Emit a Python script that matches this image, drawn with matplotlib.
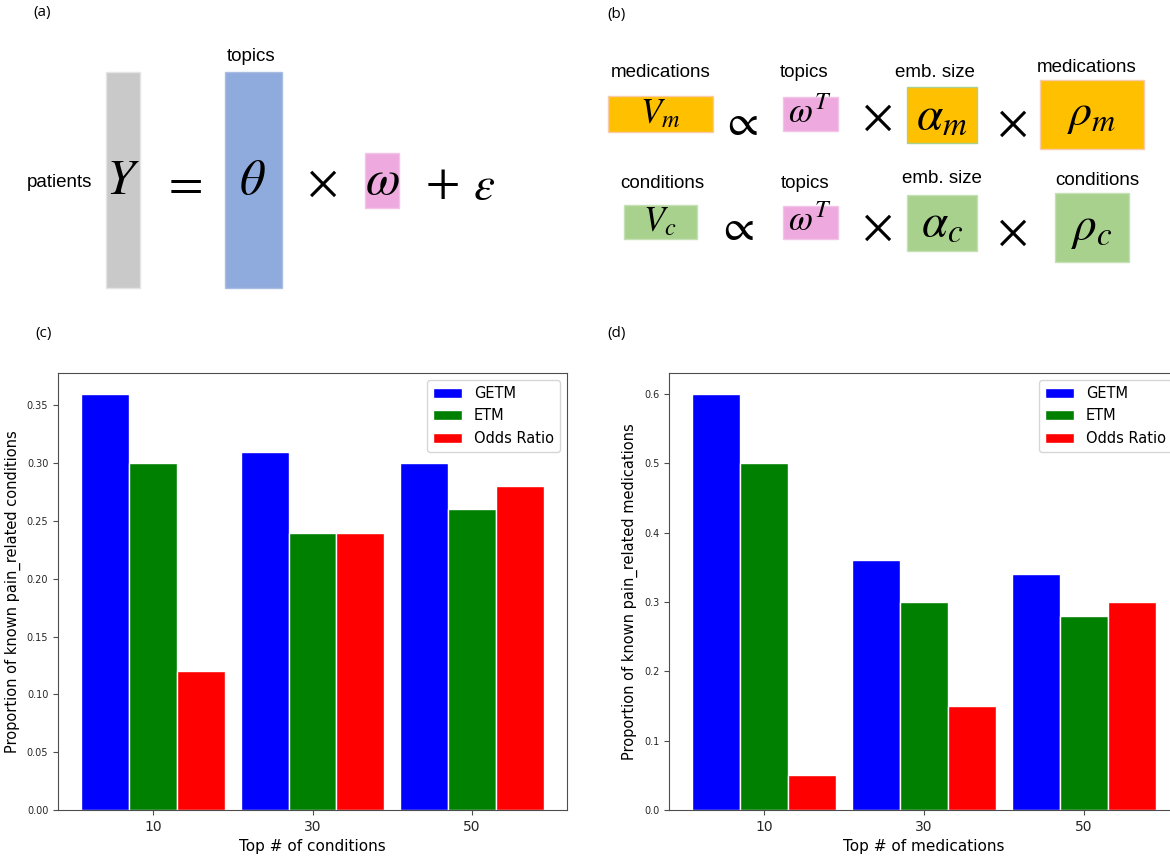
import matplotlib
matplotlib.use("Agg")
import numpy as np
import matplotlib.pyplot as plt
from matplotlib.patches import Rectangle

plt.rcParams.update({
    "mathtext.fontset": "stix",
    "axes.edgecolor": "0.3",
    "xtick.color": "0.3",
    "ytick.color": "0.3",
    "xtick.labelcolor": "0.15",
    "ytick.labelcolor": "0.15",
})

# ---- bar chart data ----
top_n = ["10", "30", "50"]
methods = ["GETM", "ETM", "Odds Ratio"]
bar_colors = ["blue", "green", "red"]
cond_getm = [0.36, 0.31, 0.30]
cond_etm = [0.30, 0.24, 0.26]
cond_or = [0.12, 0.24, 0.28]
med_getm = [0.60, 0.36, 0.34]
med_etm = [0.50, 0.30, 0.28]
med_or = [0.05, 0.15, 0.30]

W, H = 1170, 856
fig = plt.figure(figsize=(W / 100, H / 100), dpi=100)

# ---- schematic panels (a) and (b), drawn in pixel coordinates ----
ov = fig.add_axes([0, 0, 1, 1])
ov.set_xlim(0, W); ov.set_ylim(H, 0); ov.axis("off")

GRAY, BLUE, PINK = "#c9c9c9", "#8faadc", "#eeaadf"
ORANGE, GREEN = "#ffc000", "#a9d18e"
# (x0, y0, x1, y1, face, edge)
boxes = [
    (106, 72, 140, 288, GRAY, "#e4e4e4"),
    (225, 72, 282, 288, BLUE, "#a9bde3"),
    (365, 153, 399, 208, PINK, "#f2c4e8"),
    (608, 96, 713, 132, ORANGE, "#f8cbad"),
    (783, 97, 838, 131, PINK, "#f2c4e8"),
    (907, 87, 977, 143, ORANGE, "#a9d18e"),
    (1040, 80, 1144, 149, ORANGE, "#f8cbad"),
    (624, 205, 697, 239, GREEN, "#c5e0b4"),
    (783, 206, 838, 239, PINK, "#f2c4e8"),
    (907, 195, 977, 251, GREEN, "#c5e0b4"),
    (1055, 193, 1129, 262, GREEN, "#c5e0b4"),
]
for x0, y0, x1, y1, fc, ec in boxes:
    ov.add_patch(Rectangle((x0, y0), x1 - x0, y1 - y0, fc=fc, ec=ec, lw=1))

lab = dict(family="Liberation Sans", fontsize=13.5, ha="center", va="center")
ov.text(59, 182, "patients", **lab)
ov.text(251, 56, "topics", **lab)
for x, y, s in [(661, 72, "medications"), (804, 72, "topics"), (935, 72, "emb. size"),
                (1087, 67, "medications"), (662, 183, "conditions"), (805, 183, "topics"),
                (942, 178, "emb. size"), (1097, 180, "conditions")]:
    ov.text(x, y, s, **lab)

m = dict(ha="center", va="center")
ov.text(123, 180, r"$Y$", fontsize=36, **m)
ov.text(182, 183, r"$=$", fontsize=36, **m)
ov.text(252, 180, r"$\theta$", fontsize=36, **m)
ov.text(322, 183, r"$\times$", fontsize=34, **m)
ov.text(382, 180, r"$\omega$", fontsize=36, **m)
ov.text(442, 183, r"$+$", fontsize=36, **m)
ov.text(484, 186, r"$\varepsilon$", fontsize=34, **m)

ov.text(660, 113, r"$V_m$", fontsize=25, **m)
ov.text(740, 122, r"$\propto$", fontsize=32, **m)
ov.text(810, 113, r"$\omega^T$", fontsize=25, **m)
ov.text(877, 117, r"$\times$", fontsize=34, **m)
ov.text(942, 116, r"$\alpha_m$", fontsize=34, **m)
ov.text(1012, 123, r"$\times$", fontsize=34, **m)
ov.text(1092, 113, r"$\rho_m$", fontsize=33, **m)

ov.text(660, 221, r"$V_c$", fontsize=25, **m)
ov.text(736, 227, r"$\propto$", fontsize=32, **m)
ov.text(810, 221, r"$\omega^T$", fontsize=25, **m)
ov.text(877, 227, r"$\times$", fontsize=34, **m)
ov.text(942, 223, r"$\alpha_c$", fontsize=34, **m)
ov.text(1012, 232, r"$\times$", fontsize=34, **m)
ov.text(1092, 228, r"$\rho_c$", fontsize=34, **m)

pl = dict(family="Open Sans", fontsize=11, ha="center", va="center")
ov.text(42, 12, "(a)", **pl)
ov.text(617, 14, "(b)", **pl)
ov.text(44, 334, "(c)", **pl)
ov.text(617, 334, "(d)", **pl)

# ---- bar charts (c) and (d) ----
def px_axes(x0, y0, x1, y1):
    return fig.add_axes([x0 / W, 1 - y1 / H, (x1 - x0) / W, (y1 - y0) / H])

x = np.arange(len(top_n))
bw = 0.3
panels = [
    (px_axes(58, 373, 567, 810), [cond_getm, cond_etm, cond_or],
     "Top # of conditions", "Proportion of known pain_related conditions", "{:.2f}"),
    (px_axes(669, 373, 1179, 810), [med_getm, med_etm, med_or],
     "Top # of medications", "Proportion of known pain_related medications", "{:.1f}"),
]
for ax, series, xl, yl, fmt in panels:
    for i, (vals, c, name) in enumerate(zip(series, bar_colors, methods)):
        ax.bar(x + (i - 1) * bw, vals, bw, color=c, edgecolor="white", lw=1, label=name)
    ax.set_xticks(x, top_n, fontsize=10)
    ax.tick_params(axis="y", labelsize=7)
    ax.set_yticks(ax.get_yticks())
    ax.set_yticklabels([fmt.format(t) for t in ax.get_yticks()])
    ax.set_ylim(0, max(max(s) for s in series) * 1.05)
    ax.set_xlabel(xl, fontsize=11)
    ax.set_ylabel(yl, fontsize=10.5)
    ax.legend(loc="upper right", fontsize=10.5)

fig.savefig("out.png", dpi=100)
